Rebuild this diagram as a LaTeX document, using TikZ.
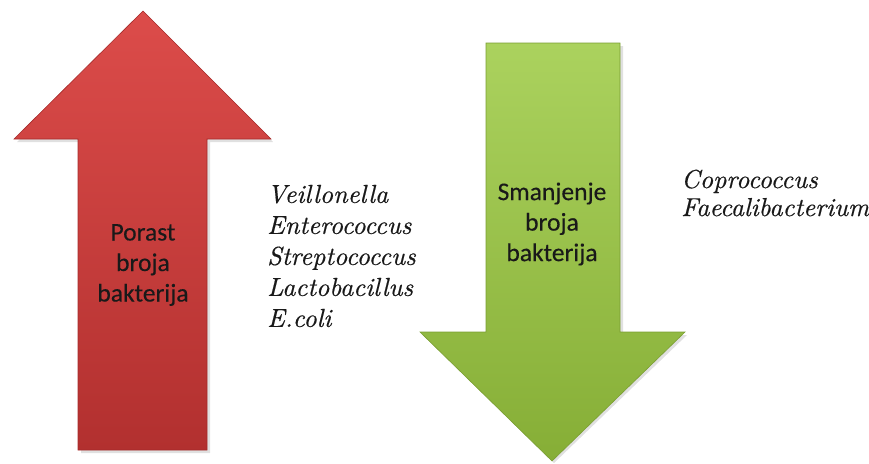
\documentclass[tikz,border=0pt]{standalone}
\usepackage{fontspec}
\newfontfamily\calfont{Carlito}[FakeBold=0.3]
\newfontfamily\lmit{lmroman10-italic.otf}[FakeBold=0.5]
\definecolor{redtop}{HTML}{DC4C4A}
\definecolor{redbot}{HTML}{B2302F}
\definecolor{rededge}{HTML}{A52A2A}
\definecolor{greentop}{HTML}{ABD25E}
\definecolor{greenbot}{HTML}{86AE36}
\definecolor{greenedge}{HTML}{7A9E32}
\begin{document}
\begin{tikzpicture}[x=1pt,y=-1pt,
  arrowshape/.style={line width=0.6pt, line join=miter},
  shadowshape/.style={fill=black, opacity=0.12},
  inlabel/.style={font=\calfont\fontsize{25.5}{30.5}\selectfont, align=center, text=black!90, inner sep=0pt},
  species/.style={font=\lmit\fontsize{26}{31}\selectfont, align=left, anchor=west, inner sep=0pt, text=black!90}]
\useasboundingbox (0,0) rectangle (869,463);
% red up arrow
\fill[shadowshape] (145,14) -- (273,142) -- (210,142) -- (210,453) -- (81,453) -- (81,142) -- (17,142) -- cycle;
\shade[arrowshape, top color=redtop, bottom color=redbot, draw=rededge]
  (143,11) -- (271,139) -- (207,139) -- (207,450) -- (78,450) -- (78,139) -- (14,139) -- cycle;
% green down arrow
\fill[shadowshape] (489,46) -- (623,46) -- (623,335) -- (687,335) -- (554,463) -- (423,335) -- (489,335) -- cycle;
\shade[arrowshape, top color=greentop, bottom color=greenbot, draw=greenedge]
  (486,43) -- (620,43) -- (620,332) -- (685,332) -- (552,461) -- (420,332) -- (486,332) -- cycle;
% labels
\node[inlabel] (up) at (143,265) {Porast\\broja\\bakterija};
\node[inlabel] (down) at (552,224) {Smanjenje\\broja\\bakterija};
\node[species] (inc) at (267,256) {Veillonella\\Enterococcus\\Streptococcus\\Lactobacillus\\E.coli};
\node[species, font=\lmit\fontsize{26}{28}\selectfont] (dec) at (681,193) {Coprococcus\\Faecalibacterium};
\end{tikzpicture}
\end{document}
